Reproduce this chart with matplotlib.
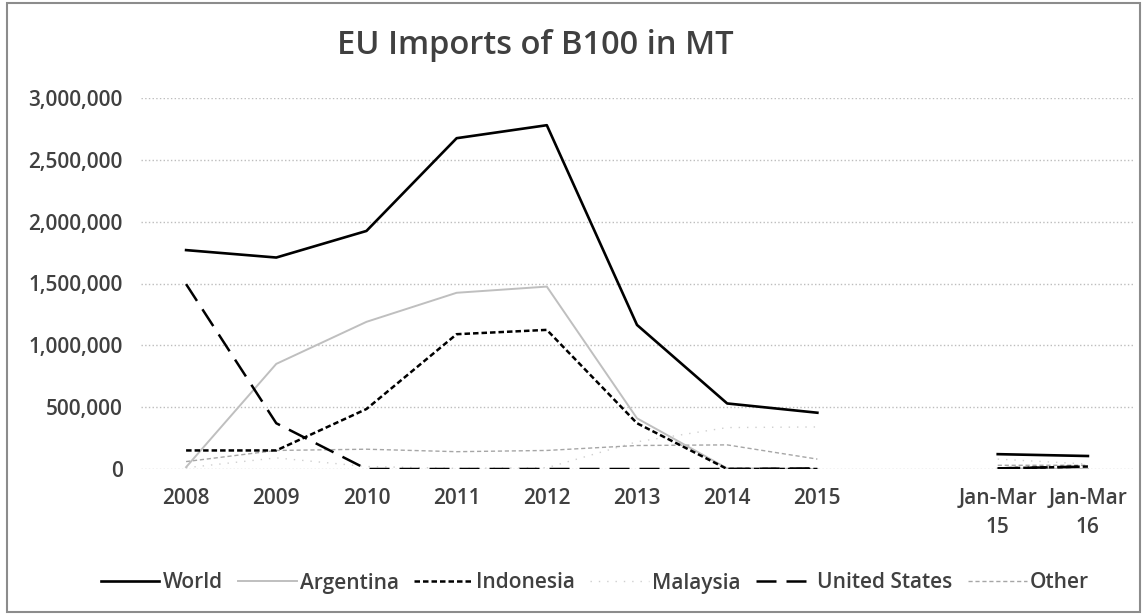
import numpy as np
import matplotlib
matplotlib.use("Agg")
import matplotlib.pyplot as plt
from matplotlib.patches import Rectangle
from matplotlib.ticker import FuncFormatter

plt.rcParams['font.family'] = ['Open Sans', 'DejaVu Sans']
plt.rcParams['font.weight'] = 'semibold'

nan = np.nan
categories = ['2008', '2009', '2010', '2011', '2012', '2013', '2014', '2015', '',
              'Jan-Mar\n15', 'Jan-Mar\n16']
world = [1770000, 1710000, 1925000, 2675000, 2780000, 1165000, 530000, 455000, nan, 120000, 105000]
argentina = [15000, 850000, 1190000, 1425000, 1475000, 410000, 5000, 0, nan, 5000, 0]
indonesia = [150000, 150000, 485000, 1090000, 1125000, 370000, 0, 0, nan, 5000, 20000]
malaysia = [10000, 90000, 20000, 5000, 10000, 220000, 335000, 340000, nan, 80000, 40000]
united_states = [1495000, 370000, 0, 0, 0, 0, 0, 5000, nan, 5000, 20000]
other = [60000, 150000, 160000, 140000, 150000, 190000, 195000, 80000, nan, 30000, 30000]

x = np.arange(len(categories))
txt = '#404040'

fig = plt.figure(figsize=(11.44, 6.15), dpi=100)
ax = fig.add_axes([141 / 1144, 1 - 469 / 615, (1133 - 141) / 1144, (469 - 98) / 615])

ax.plot(x, world, color='black', lw=1.9, label='World', zorder=6)
ax.plot(x, argentina, color='#bfbfbf', lw=1.4, label='Argentina', zorder=3)
ax.plot(x, indonesia, color='black', lw=1.8, dashes=(2.2, 1.2), label='Indonesia', zorder=5)
ax.plot(x, malaysia, color='#cfcfcf', lw=1.0, dashes=(1, 5), label='Malaysia', zorder=2)
ax.plot(x, united_states, color='black', lw=1.8, dashes=(8, 4), label='United States', zorder=4)
ax.plot(x, other, color='#a6a6a6', lw=1.0, dashes=(3, 2), label='Other', zorder=2)

ax.set_xlim(-0.5, len(categories) - 0.5)
ax.set_ylim(0, 3000000)
ax.set_yticks(np.arange(0, 3000001, 500000))
ax.yaxis.set_major_formatter(FuncFormatter(lambda v, p: f'{int(v):,}'))
ax.set_xticks(x)
ax.set_xticklabels(categories, linespacing=1.45)
ax.grid(axis='y', color='#bdbdbd', lw=1.0, ls=':')
ax.set_axisbelow(True)
for s in ax.spines.values():
    s.set_visible(False)
ax.tick_params(axis='both', length=0, labelsize=15, labelcolor=txt)
ax.tick_params(axis='x', pad=14)
ax.tick_params(axis='y', pad=13)

fig.text(535 / 1144, 1 - 45 / 615, 'EU Imports of B100 in MT', ha='center', va='center',
         fontsize=23.5, color=txt)

fig.legend(loc='center', bbox_to_anchor=(595 / 1144, 1 - 583 / 615), ncol=6, frameon=False,
           fontsize=15, handlelength=2.8, handletextpad=0.15, columnspacing=0.75,
           labelcolor=txt)

fig.add_artist(Rectangle((7 / 1144, 3 / 615), 1133 / 1144, 609 / 615, transform=fig.transFigure,
                         fill=False, edgecolor='#8c8c8c', lw=1.5))

fig.savefig('out.png', dpi=100)
